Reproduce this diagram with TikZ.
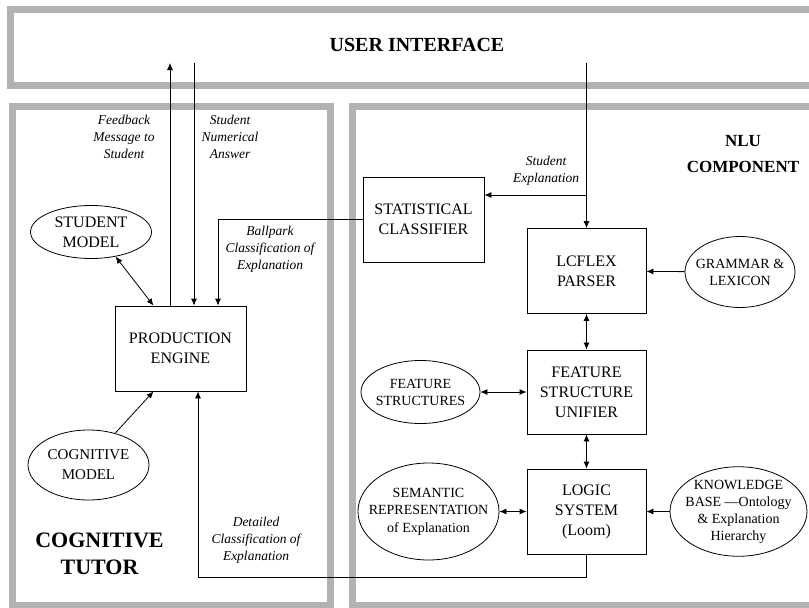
\documentclass[tikz,border=0pt]{standalone}
\usepackage{fontspec}
\setmainfont{Liberation Serif}
\usetikzlibrary{arrows.meta,shapes.geometric}

\begin{document}
\begin{tikzpicture}
	[x=1pt,y=-1pt,
	 frame/.style={draw=black!30,line width=7pt},
	 box/.style={draw,line width=0.8pt,minimum width=119pt,minimum height=85pt,align=center,font=\fontsize{16}{20}\selectfont},
	 oval/.style={draw,ellipse,line width=0.8pt,inner xsep=-6pt,inner ysep=0pt,align=center,font=\fontsize{14}{17}\selectfont},
	 lbl/.style={font=\fontsize{13.5}{17}\selectfont\itshape,align=center},
	 head/.style={font=\fontsize{22}{27}\selectfont\bfseries,align=center},
	 arr/.style={line width=0.8pt,-{Latex[length=7pt,width=6pt]}},
	 darr/.style={line width=0.8pt,{Latex[length=7pt,width=6pt]}-{Latex[length=7pt,width=6pt]}}]

	\useasboundingbox (0,0) rectangle (809,608);
	\clip (0,0) rectangle (809,608);

	\draw[frame] (10,9.5) rectangle (820,85.5);
	\draw[frame] (12.5,106.5) rectangle (330,605);
	\draw[frame] (352.5,106.5) rectangle (820,605);

	\node[head,font=\fontsize{20}{27}\selectfont\bfseries] (ui) at (417,45) {USER INTERFACE};

	\node[head,font=\fontsize{17}{26}\selectfont\bfseries] (nlu) at (743,154) {NLU\\COMPONENT};

	\node[head] (tutor) at (99.5,553.5) {COGNITIVE\\TUTOR};

	\node[box,minimum width=131pt] (prod) at (180.5,348.5) {PRODUCTION\\ENGINE};

	\node[box,minimum width=121pt] (stat) at (423.5,219.5) {STATISTICAL\\CLASSIFIER};

	\node[box] (lcflex) at (586.5,271) {LCFLEX\\PARSER};

	\node[box,minimum height=84pt] (fsu) at (586.5,392) {FEATURE\\STRUCTURE\\UNIFIER};

	\node[box] (logic) at (586.5,511.5) {LOGIC\\SYSTEM\\(Loom)};

	\node[oval,minimum width=121pt,minimum height=53pt,font=\fontsize{16}{20}\selectfont] (student) at (91,232) {STUDENT\\MODEL};

	\node[oval,minimum width=121pt,minimum height=70pt,font=\fontsize{15}{20}\selectfont] (cogmodel) at (88.5,465) {COGNITIVE\\MODEL};

	\node[oval,minimum width=110pt,minimum height=71pt] (grammar) at (740,272) {GRAMMAR \&\\LEXICON};

	\node[oval,minimum width=119pt,minimum height=63pt] (featstruct) at (420.5,392) {FEATURE\\STRUCTURES};

	\node[oval,inner xsep=-12pt,minimum width=141pt,minimum height=97pt,font=\fontsize{14}{17.5}\selectfont] (semantic) at (428.5,511.5) {SEMANTIC\\REPRESENTATION\\of Explanation};

	\node[oval,minimum width=137pt,minimum height=89pt] (knowledge) at (738.5,511.5) {KNOWLEDGE\\BASE ---Ontology\\\& Explanation\\Hierarchy};

	\node[lbl] (fblbl) at (124,137) {Feedback\\Message to\\Student};
	\node[lbl] (numlbl) at (230,137) {Student\\Numerical\\Answer};
	\node[lbl] (bplbl) at (270,249) {Ballpark\\Classification of\\Explanation};
	\node[lbl] (explbl) at (546,170.5) {Student\\Explanation};
	\node[lbl] (detlbl) at (256,540) {Detailed\\Classification of\\Explanation};

	\coordinate (fbtop) at (170,63);
	\coordinate (numtop) at (194,63);
	\coordinate (nlutop) at (586.5,63);
	\coordinate (split) at (586.5,195);
	\coordinate (detail) at (198,577);

	\draw[arr] (prod.north -| fbtop) -- (fbtop);
	\draw[arr] (numtop) -- (numtop |- prod.north);
	\draw[arr] (stat.west) -| ([xshift=37.5pt]prod.north);
	\draw[arr] (nlutop) -- (lcflex.north);
	\draw[arr] (split) -- (split -| stat.east);
	\draw[arr] (grammar) -- (lcflex);
	\draw[darr] (lcflex) -- (fsu);
	\draw[darr] (featstruct) -- (fsu);
	\draw[darr] (fsu) -- (logic);
	\draw[darr] (semantic) -- (logic);
	\draw[arr] (knowledge) -- (logic);
	\draw[arr] (logic.south) |- (detail) -- (detail |- prod.south);
	\draw[darr] (student.-45) -- ([xshift=-27pt]prod.north);
	\draw[arr] (cogmodel.50) -- ([xshift=-27pt]prod.south);

\end{tikzpicture}
\end{document}
